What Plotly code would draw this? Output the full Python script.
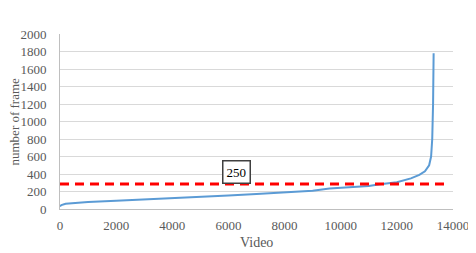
import plotly.graph_objects as go

video_index = [0, 50, 200, 500, 1000, 2000, 3000, 4000, 5000, 6000, 7000, 8000, 9000,
               9600, 10000, 11000, 11400, 12000, 12500, 12800, 13000, 13150, 13220,
               13260, 13290, 13310]
frames = [30, 45, 60, 70, 80, 95, 108, 122, 138, 155, 172, 190, 210,
          235, 243, 262, 284, 305, 350, 390, 430, 500, 600,
          800, 1200, 1780]

threshold_x = [0, 13800]
threshold_y = [285, 285]
threshold_label = "250"
label_pos = (6300, 425)

x_ticks = [0, 2000, 4000, 6000, 8000, 10000, 12000, 14000]
x_tick_text = ["0", "2000", "4000", "6000", "8000", "10000", "12000", "14000"]
y_ticks = [0, 200, 400, 600, 800, 1000, 1200, 1400, 1600, 1800, 2000]
y_tick_text = ["0", "200", "400", "600", "800", "1000", "1200", "1400", "1600", "1800", "2000"]

x_title = "Video"
y_title = "number of frame"

font_family = "Liberation Serif"
grey = "#595959"

fig = go.Figure()
fig.add_trace(go.Scatter(x=video_index, y=frames, mode="lines",
                         line=dict(color="#5B9BD5", width=2), showlegend=False))
fig.add_trace(go.Scatter(x=threshold_x, y=threshold_y, mode="lines",
                         line=dict(color="#FF0000", width=3, dash="9px,6px"),
                         showlegend=False))
fig.add_annotation(x=label_pos[0], y=label_pos[1], text=threshold_label, showarrow=False,
                   font=dict(family=font_family, size=13, color="black"),
                   bgcolor="white", bordercolor="#404040", borderwidth=1.5, borderpad=3)

# axis titles as annotations for exact placement
fig.add_annotation(xref="paper", yref="paper", x=0, y=0.5, xanchor="center", yanchor="middle",
                   xshift=-46, textangle=-90, text=y_title, showarrow=False,
                   font=dict(family=font_family, size=13, color=grey))
fig.add_annotation(xref="paper", yref="paper", x=0.5, y=0, xanchor="center", yanchor="middle",
                   yshift=-33, text=x_title, showarrow=False,
                   font=dict(family=font_family, size=14, color=grey))

# page body adds an 8px margin, so the figure is sized to fit the 476x253 window
fig.update_layout(
    width=468, height=245,
    margin=dict(l=52, r=23, t=26, b=44, autoexpand=False),
    paper_bgcolor="white", plot_bgcolor="white",
    font=dict(family=font_family, size=13, color=grey),
    xaxis=dict(range=[0, 14000], tickvals=x_ticks, ticktext=x_tick_text, showgrid=False,
               zeroline=False, automargin=False,
               showline=True, linecolor="#BFBFBF", linewidth=1, ticks="",
               ticklabelstandoff=4,
               tickfont=dict(family=font_family, size=13, color=grey)),
    yaxis=dict(range=[0, 2000], tickvals=y_ticks, ticktext=y_tick_text, showgrid=True,
               gridcolor="#D9D9D9", automargin=False,
               zeroline=False, showline=True, linecolor="#BFBFBF", linewidth=1, ticks="",
               ticklabelstandoff=10,
               tickfont=dict(family=font_family, size=13, color=grey)),
)

fig.write_html("out.html")
